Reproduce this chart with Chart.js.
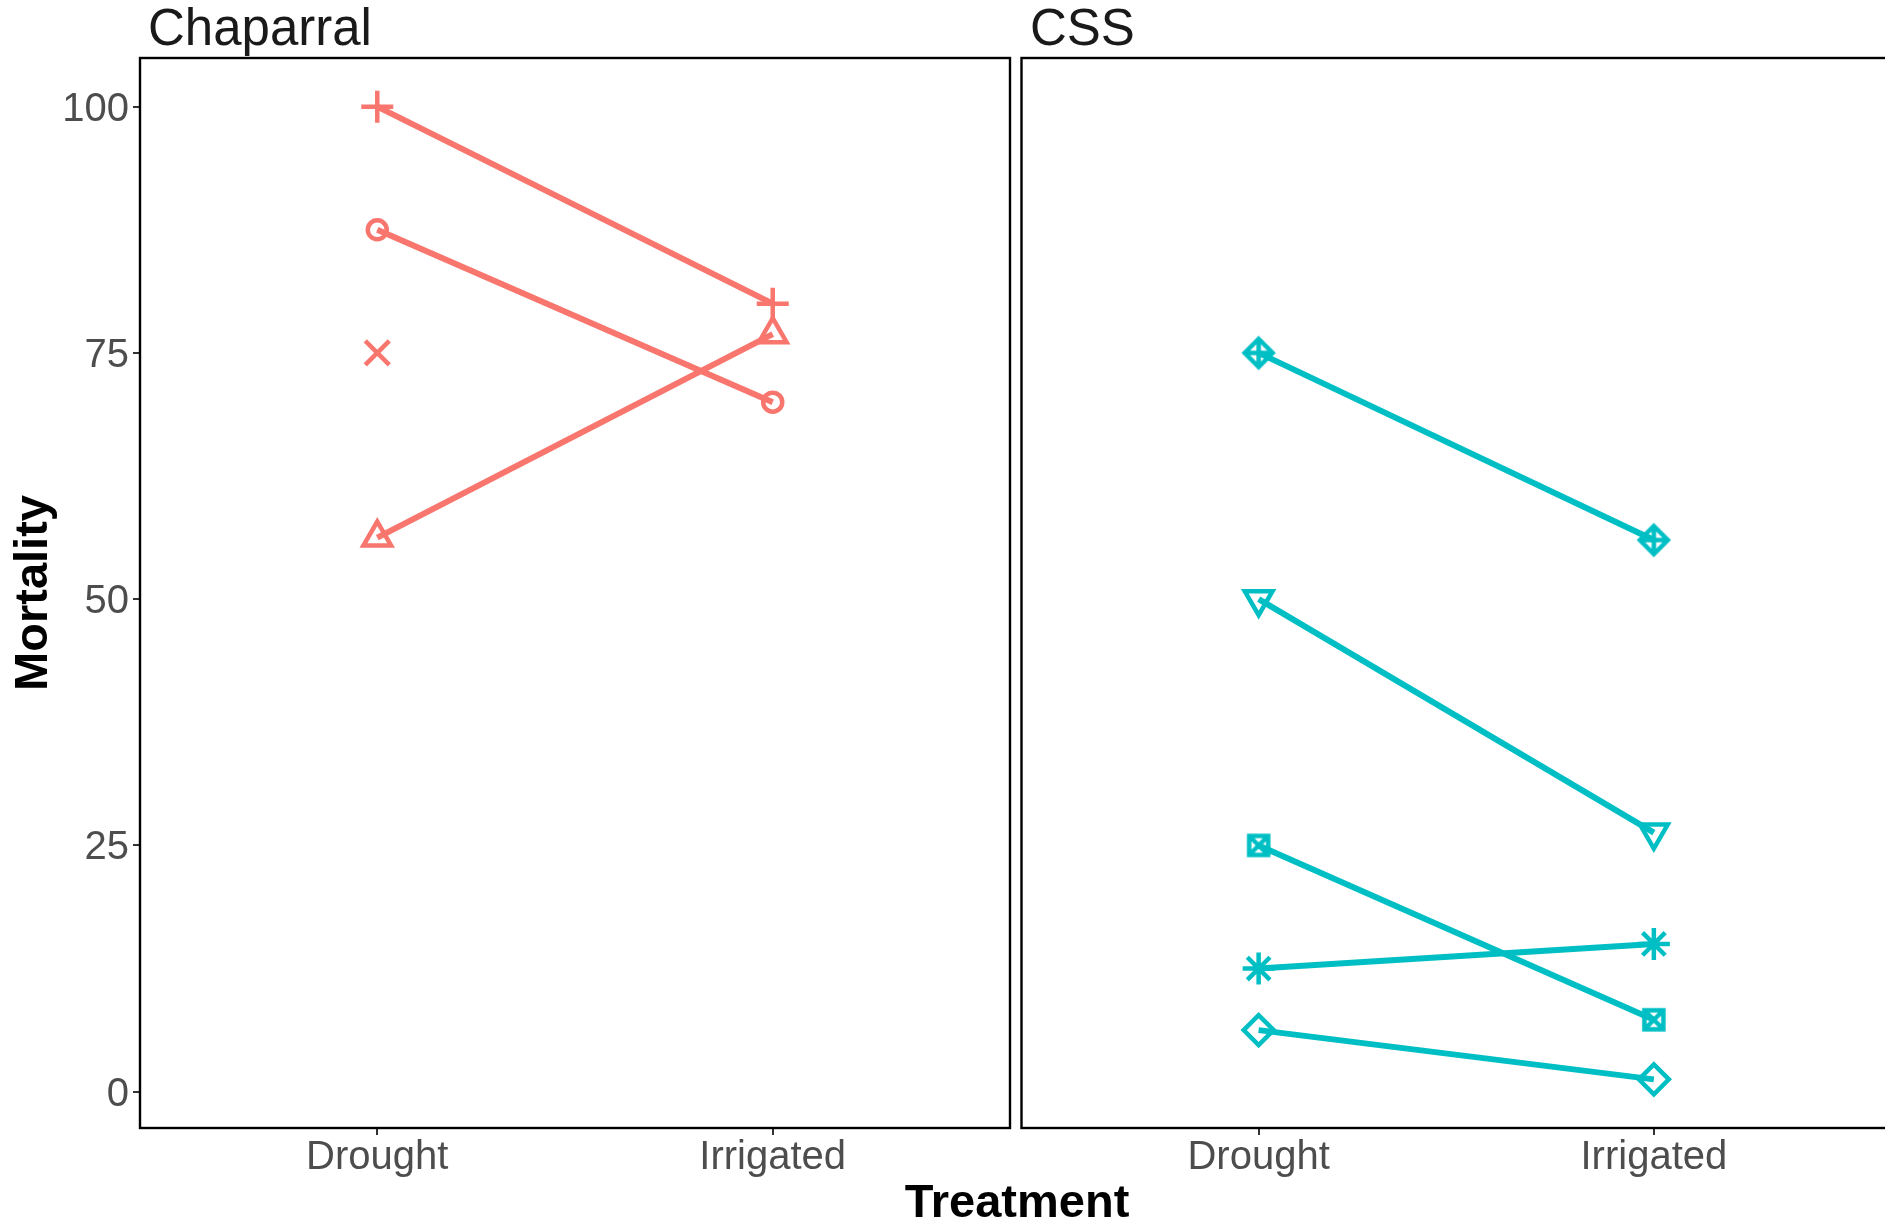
<!DOCTYPE html>
<html>
<head>
<meta charset="utf-8">
<script src="https://cdn.jsdelivr.net/npm/chart.js@4.4.1/dist/chart.umd.min.js"></script>
<style>
  html, body { margin: 0; padding: 0; background: #fff; overflow: hidden; }
  body { width: 1885px; height: 1222px; position: relative; font-family: "Liberation Sans", Arial, sans-serif; }
  canvas { position: absolute; top: 0; }
  .facet { position: absolute; font-size: 51px; line-height: 1; color: #1a1a1a; white-space: nowrap; }
  .xtitle { position: absolute; font-size: 47px; line-height: 1; font-weight: bold; color: #000; white-space: nowrap; transform: translateX(-50%); }
</style>
</head>
<body>
<canvas id="chartChaparral" width="1016" height="1222" style="left:0"></canvas>
<canvas id="chartCSS" width="880" height="1222" style="left:1016px"></canvas>
<div class="facet" style="left:148px; top:2px">Chaparral</div>
<div class="facet" style="left:1030px; top:2px">CSS</div>
<div class="xtitle" style="left:1017px; top:1177px">Treatment</div>

<script>
// Dados do gráfico
const treatments = ['Drought', 'Irrigated'];
const yTicks = [0, 25, 50, 75, 100];

// Chaparral
const chapPlus = [100, 80];
const chapCircle = [87.5, 70];
const chapCross = [75, null];
const chapTriangle = [56.25, 76.9];

// CSS
const cssDiamondPlus = [75, 56];
const cssTriDown = [50, 26.3];
const cssSquareX = [25, 7.3];
const cssStar = [12.5, 15];
const cssDiamond = [6.25, 1.25];

const RED = '#F8766D';
const TEAL = '#00BFC4';

// Faixa do eixo y (expansão de 5% como no ggplot)
const allValues = [].concat(chapPlus, chapCircle, chapCross, chapTriangle,
  cssDiamondPlus, cssTriDown, cssSquareX, cssStar, cssDiamond).filter(v => v !== null);
const yMin = Math.min(...allValues);
const yMax = Math.max(...allValues);
const yPad = (yMax - yMin) * 0.05;

// Marcadores que o Chart.js não tem prontos
function criarMarcador(tipo, cor, r, lw) {
  const size = Math.ceil(2 * r + 2 * lw + 2);
  const c = document.createElement('canvas');
  c.width = size;
  c.height = size;
  const g = c.getContext('2d');
  const m = size / 2;
  g.strokeStyle = cor;
  g.lineWidth = lw;
  g.beginPath();
  if (tipo === 'diamondPlus') {
    g.moveTo(m, m - r); g.lineTo(m + r, m); g.lineTo(m, m + r); g.lineTo(m - r, m); g.closePath();
    g.moveTo(m, m - r); g.lineTo(m, m + r);
    g.moveTo(m - r, m); g.lineTo(m + r, m);
  } else if (tipo === 'squareX') {
    g.rect(m - r, m - r, 2 * r, 2 * r);
    g.moveTo(m - r, m - r); g.lineTo(m + r, m + r);
    g.moveTo(m + r, m - r); g.lineTo(m - r, m + r);
  }
  g.stroke();
  return c;
}

function serie(valores, cor, estilo, raio, extra) {
  return Object.assign({
    data: valores.map((v, i) => ({ x: i, y: v })),
    borderColor: cor,
    borderWidth: 6,
    pointStyle: estilo,
    pointRadius: raio,
    pointBorderWidth: 4.5,
    pointBorderColor: cor,
    pointBackgroundColor: 'rgba(0,0,0,0)',
    fill: false,
    tension: 0
  }, extra || {});
}

// Borda do painel
const bordaPainel = {
  id: 'bordaPainel',
  afterDraw(chart) {
    const { ctx, chartArea: a } = chart;
    ctx.save();
    ctx.strokeStyle = '#000';
    ctx.lineWidth = 2.4;
    ctx.strokeRect(a.left, a.top, a.right - a.left, a.bottom - a.top);
    ctx.restore();
  }
};

function opcoes(mostrarY, padding) {
  return {
    responsive: false,
    animation: false,
    events: [],
    layout: { padding: padding, autoPadding: false },
    plugins: { legend: { display: false }, tooltip: { enabled: false } },
    scales: {
      x: {
        type: 'linear',
        min: -0.6,
        max: 1.6,
        afterBuildTicks: s => { s.ticks = treatments.map((t, i) => ({ value: i })); },
        afterFit: s => { s.height = 94; },
        border: { display: false },
        grid: { drawOnChartArea: false, drawTicks: true, tickLength: 7, color: '#333', lineWidth: 2 },
        ticks: {
          autoSkip: false,
          maxRotation: 0,
          padding: -1,
          color: '#4D4D4D',
          font: { family: 'Liberation Sans', size: 40 },
          callback: v => treatments[v]
        }
      },
      y: {
        display: mostrarY,
        min: yMin - yPad,
        max: yMax + yPad,
        afterBuildTicks: s => { s.ticks = yTicks.map(v => ({ value: v })); },
        afterFit: s => { if (mostrarY) s.width = 140; },
        border: { display: false },
        grid: { drawOnChartArea: false, drawTicks: true, tickLength: 7, color: '#333', lineWidth: 2 },
        ticks: {
          padding: 4,
          labelOffset: 3,
          color: '#4D4D4D',
          font: { family: 'Liberation Sans', size: 40 }
        },
        title: {
          display: mostrarY,
          text: 'Mortality',
          color: '#000',
          padding: { top: 6, bottom: 0 },
          font: { family: 'Liberation Sans', size: 47, weight: 'bold' }
        }
      }
    }
  };
}

new Chart(document.getElementById('chartChaparral').getContext('2d'), {
  type: 'line',
  data: {
    datasets: [
      serie(chapPlus, RED, 'cross', 16),
      serie(chapCircle, RED, 'circle', 9.5),
      serie(chapCross, RED, 'crossRot', 17),
      serie(chapTriangle, RED, 'triangle', 16)
    ]
  },
  options: opcoes(true, { top: 58, right: 6, left: 0, bottom: 0 }),
  plugins: [bordaPainel]
});

new Chart(document.getElementById('chartCSS').getContext('2d'), {
  type: 'line',
  data: {
    datasets: [
      serie(cssDiamondPlus, TEAL, criarMarcador('diamondPlus', TEAL, 14, 4.5), 14),
      serie(cssTriDown, TEAL, 'triangle', 16, { pointRotation: 180 }),
      serie(cssSquareX, TEAL, criarMarcador('squareX', TEAL, 9.5, 4.5), 12),
      serie(cssStar, TEAL, 'star', 16),
      serie(cssDiamond, TEAL, 'rectRot', 15)
    ]
  },
  options: opcoes(false, { top: 58, right: 5, left: 5.5, bottom: 0 }),
  plugins: [bordaPainel]
});
</script>
</body>
</html>
